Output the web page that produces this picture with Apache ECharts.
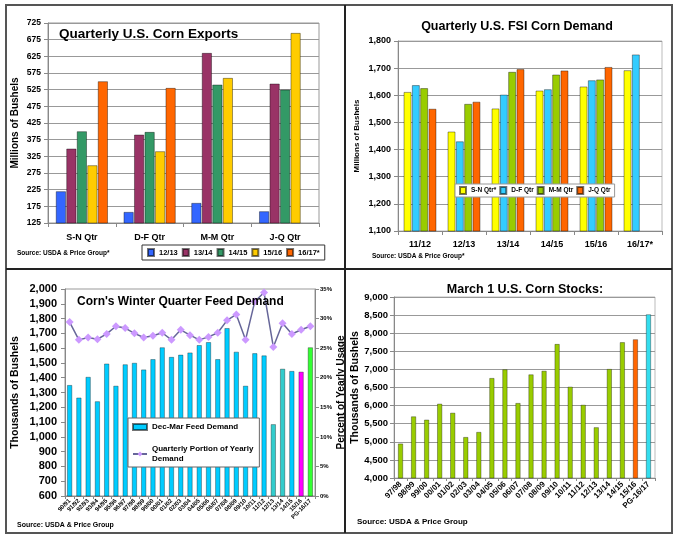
<!DOCTYPE html>
<html>
<head>
<meta charset="utf-8">
<script src="https://cdn.jsdelivr.net/npm/echarts@6/dist/echarts.min.js"></script>
<style>
  html, body { margin: 0; padding: 0; background: #fff; }
  #main { width: 680px; height: 542px; }
</style>
</head>
<body>
<div id="main"></div>
<script>
// --- top left: quarterly exports ---
var expQtrs = ['S-N Qtr', 'D-F Qtr', 'M-M Qtr', 'J-Q Qtr'];
var exp1213 = [220, 158, 185, 160];
var exp1314 = [348, 390, 635, 543];
var exp1415 = [400, 398, 540, 525];
var exp1516 = [298, 340, 560, 695];
var exp1617 = [550, 530, null, null];

// --- top right: FSI demand ---
var fsiYears = ['11/12', '12/13', '13/14', '14/15', '15/16', '16/17*'];
var fsiSN = [1612, 1466, 1551, 1617, 1632, 1692];
var fsiDF = [1637, 1430, 1602, 1622, 1655, 1750];
var fsiMM = [1626, 1568, 1686, 1676, 1658, null];
var fsiJQ = [1550, 1576, 1696, 1691, 1704, null];

// --- bottom left: winter quarter feed ---
var feedYears = ['90/91','91/92','92/93','93/94','94/95','95/96','96/97','97/98','98/99','99/00',
  '00/01','01/02','02/03','03/04','04/05','05/06','06/07','07/08','08/09','09/10',
  '10/11','11/12','12/13','13/14','14/15','15/16','PG-16/17'];
var feedDemand = [1350,1265,1405,1240,1495,1345,1490,1500,1455,1525,
  1605,1540,1555,1570,1620,1640,1525,1735,1575,1345,
  1565,1550,1085,1460,1445,1440,1605];
var feedPct = [29.4,26.4,26.8,26.5,27.4,28.7,28.4,27.5,26.8,27.1,
  27.6,26.4,28.1,27.2,26.4,26.9,27.6,29.7,30.7,26.4,
  32.9,34.4,25.2,29.2,27.4,28.1,28.7];

// --- bottom right: March 1 stocks ---
var stockYears = ['97/98','98/99','99/00','00/01','01/02','02/03','03/04','04/05','05/06','06/07',
  '07/08','08/09','09/10','10/11','11/12','12/13','13/14','14/15','15/16','PG-16/17'];
var stockVals = [4950,5700,5610,6050,5800,5130,5270,6760,7000,6070,
  6860,6960,7700,6520,6020,5400,7010,7750,7830,8520];

var FONT = 'Liberation Sans, Arial, sans-serif';
var edge = 'rgba(0,0,0,0.55)';

function comma(v) { return v.toLocaleString('en-US'); }

function feedColor(cat) {
  if (cat === '12/13' || cat === '13/14') return '#33CCCC';
  if (cat === '15/16') return '#FF00FF';
  if (cat === 'PG-16/17') return '#33FF33';
  return null;
}
function stockColor(cat) {
  if (cat === '15/16') return '#FF6600';
  if (cat === 'PG-16/17') return '#33DDEE';
  return null;
}

function bar(name, data, color, xi, width, gap) {
  return {
    name: name, type: 'bar', xAxisIndex: xi, yAxisIndex: xi,
    data: data, barWidth: width, barGap: gap,
    itemStyle: { color: color, borderColor: edge, borderWidth: 0.7 }
  };
}

var chart = echarts.init(document.getElementById('main'));

var ylab = function (size) {
  return { fontFamily: FONT, fontWeight: 'bold', fontSize: size, color: '#000' };
};
var gridLine = { show: true, lineStyle: { color: '#999', width: 1 } };
var axLine = { show: true, lineStyle: { color: '#888' } };

var option = {
  animation: false,
  backgroundColor: '#fff',
  textStyle: { fontFamily: FONT },
  title: [
    { text: 'Quarterly U.S. Corn Exports', left: 54, top: 22,
      textStyle: { fontSize: 13.5, fontWeight: 'bold', color: '#000', fontFamily: FONT } },
    { text: 'Quarterly U.S. FSI Corn Demand', left: 512, top: 15, textAlign: 'center',
      textStyle: { fontSize: 12.5, fontWeight: 'bold', color: '#000', fontFamily: FONT } },
    { text: "Corn's Winter Quarter Feed Demand", left: 72, top: 291,
      textStyle: { fontSize: 12, fontWeight: 'bold', color: '#000', fontFamily: FONT } },
    { text: 'March 1 U.S. Corn Stocks:', left: 520, top: 278, textAlign: 'center',
      textStyle: { fontSize: 12.5, fontWeight: 'bold', color: '#000', fontFamily: FONT } }
  ],
  legend: [
    { data: ['12/13', '13/14', '14/15', '15/16', '16/17*'],
      left: 142, top: 245, orient: 'horizontal',
      padding: [3, 5], itemGap: 4, itemWidth: 6, itemHeight: 7, icon: 'rect',
      borderColor: '#333', borderWidth: 1, backgroundColor: '#fff',
      textStyle: { fontSize: 7.5, fontWeight: 'bold', fontFamily: FONT, color: '#000' } },
    { data: ['S-N Qtr*', 'D-F Qtr', 'M-M Qtr', 'J-Q Qtr'],
      left: 455, top: 184, orient: 'horizontal',
      padding: [2, 4], itemGap: 3, itemWidth: 6, itemHeight: 7, icon: 'rect',
      borderColor: '#999', borderWidth: 1, backgroundColor: '#fff',
      textStyle: { fontSize: 6.5, fontWeight: 'bold', fontFamily: FONT, color: '#000' } },
    { data: [{ name: 'Dec-Mar Feed Demand', icon: 'rect' },
             { name: 'Quarterly Portion of Yearly\nDemand' }],
      left: 128, top: 418, orient: 'vertical',
      padding: [4, 6, 3, 4], itemGap: 12, itemWidth: 14, itemHeight: 6,
      borderColor: '#666', borderWidth: 1, backgroundColor: '#fff',
      textStyle: { fontSize: 8, fontWeight: 'bold', fontFamily: FONT, color: '#000', lineHeight: 10 } }
  ],
  grid: [
    { left: 48, top: 23, width: 271, height: 200, show: true, borderColor: '#999', borderWidth: 1 },
    { left: 398, top: 41, width: 264, height: 190, show: true, borderColor: '#bbb', borderWidth: 1 },
    { left: 65, top: 289, width: 250, height: 207, show: true, borderColor: '#999', borderWidth: 1 },
    { left: 394, top: 297, width: 261, height: 181, show: true, borderColor: '#bbb', borderWidth: 1 }
  ],
  xAxis: [
    { gridIndex: 0, type: 'category', data: expQtrs,
      axisLine: axLine, axisTick: { show: true, length: 4, lineStyle: { color: '#888' } },
      axisLabel: Object.assign(ylab(9), { margin: 10 }) },
    { gridIndex: 1, type: 'category', data: fsiYears,
      axisLine: axLine, axisTick: { show: true, length: 4, lineStyle: { color: '#888' } },
      axisLabel: Object.assign(ylab(9), { margin: 9 }) },
    { gridIndex: 2, type: 'category', data: feedYears,
      axisLine: axLine, axisTick: { show: true, length: 3, lineStyle: { color: '#888' } },
      axisLabel: Object.assign(ylab(6), { interval: 0, rotate: 45, margin: 4 }) },
    { gridIndex: 3, type: 'category', data: stockYears,
      axisLine: axLine, axisTick: { show: true, length: 3, lineStyle: { color: '#888' } },
      axisLabel: Object.assign(ylab(8), { interval: 0, rotate: 45, margin: 5 }) }
  ],
  yAxis: [
    { gridIndex: 0, type: 'value', min: 125, max: 725, interval: 50,
      name: 'Millions of Bushels', nameLocation: 'middle', nameGap: 28, nameRotate: 90,
      nameTextStyle: ylab(10),
      axisLine: axLine, axisTick: { show: true, length: 4, lineStyle: { color: '#888' } },
      splitLine: gridLine, axisLabel: Object.assign(ylab(8.5), { margin: 7 }) },
    { gridIndex: 1, type: 'value', min: 1100, max: 1800, interval: 100,
      name: 'Millions of Bushels', nameLocation: 'middle', nameGap: 37, nameRotate: 90,
      nameTextStyle: ylab(8),
      axisLine: axLine, axisTick: { show: true, length: 4, lineStyle: { color: '#888' } },
      splitLine: gridLine,
      axisLabel: Object.assign(ylab(9), { margin: 7, formatter: comma }) },
    { gridIndex: 2, type: 'value', min: 600, max: 2000, interval: 100,
      name: 'Thousands of Bushels', nameLocation: 'middle', nameGap: 44, nameRotate: 90,
      nameTextStyle: ylab(10.5),
      axisLine: axLine, axisTick: { show: true, length: 4, lineStyle: { color: '#888' } },
      splitLine: { show: false },
      axisLabel: Object.assign(ylab(11), { margin: 8, formatter: comma }) },
    { gridIndex: 2, type: 'value', min: 0, max: 35, interval: 5, position: 'right',
      name: 'Percent of Yearly Usage', nameLocation: 'middle', nameGap: 17, nameRotate: 90,
      nameTextStyle: ylab(10),
      axisLine: axLine, axisTick: { show: true, length: 4, lineStyle: { color: '#888' } },
      splitLine: { show: false },
      axisLabel: Object.assign(ylab(6), { margin: 5, formatter: '{value}%' }) },
    { gridIndex: 3, type: 'value', min: 4000, max: 9000, interval: 500,
      name: 'Thousands of Bushels', nameLocation: 'middle', nameGap: 33, nameRotate: 90,
      nameTextStyle: ylab(10.5),
      axisLine: axLine, axisTick: { show: true, length: 4, lineStyle: { color: '#888' } },
      splitLine: gridLine,
      axisLabel: Object.assign(ylab(9.5), { margin: 6, formatter: comma }) }
  ],
  series: [
    bar('12/13', exp1213, '#3366FF', 0, 10, '5%'),
    bar('13/14', exp1314, '#993366', 0, 10, '5%'),
    bar('14/15', exp1415, '#339966', 0, 10, '5%'),
    bar('15/16', exp1516, '#FFCC00', 0, 10, '5%'),
    bar('16/17*', exp1617, '#FF6600', 0, 10, '5%'),

    bar('S-N Qtr*', fsiSN, '#FFFF00', 1, 7.7, '8%'),
    bar('D-F Qtr', fsiDF, '#33CCFF', 1, 7.7, '8%'),
    bar('M-M Qtr', fsiMM, '#99CC00', 1, 7.7, '8%'),
    bar('J-Q Qtr', fsiJQ, '#FF6600', 1, 7.7, '8%'),

    { name: 'Dec-Mar Feed Demand', type: 'bar', xAxisIndex: 2, yAxisIndex: 2, barWidth: 5,
      itemStyle: { color: '#00CCFF', borderColor: edge, borderWidth: 0.6 },
      data: feedDemand.map(function (v, i) {
        var c = feedColor(feedYears[i]);
        return c ? { value: v, itemStyle: { color: c } } : v;
      }) },
    { name: 'Quarterly Portion of Yearly\nDemand', type: 'line', xAxisIndex: 2, yAxisIndex: 3,
      data: feedPct, symbol: 'diamond', symbolSize: 8,
      itemStyle: { color: '#CC99FF' },
      lineStyle: { color: '#666699', width: 1.5 }, z: 5 },

    { name: 'March 1 Stocks', type: 'bar', xAxisIndex: 3, yAxisIndex: 4, barWidth: 5,
      itemStyle: { color: '#99CC00', borderColor: edge, borderWidth: 0.6 },
      data: stockVals.map(function (v, i) {
        var c = stockColor(stockYears[i]);
        return c ? { value: v, itemStyle: { color: c } } : v;
      }) }
  ],
  graphic: [
    { type: 'text', left: 17, top: 250,
      style: { text: 'Source: USDA & Price Group*', font: 'bold 6.5px ' + FONT, fill: '#000' } },
    { type: 'text', left: 372, top: 253,
      style: { text: 'Source: USDA & Price Group*', font: 'bold 6.5px ' + FONT, fill: '#000' } },
    { type: 'text', left: 17, top: 522,
      style: { text: 'Source: USDA & Price Group', font: 'bold 7px ' + FONT, fill: '#000' } },
    { type: 'text', left: 357, top: 518,
      style: { text: 'Source: USDA & Price Group', font: 'bold 8px ' + FONT, fill: '#000' } },
    { type: 'rect', z: 100, shape: { x: 6, y: 5, width: 666, height: 528 },
      style: { fill: null, stroke: '#555', lineWidth: 2 } },
    { type: 'line', z: 100, shape: { x1: 345, y1: 5, x2: 345, y2: 533 },
      style: { stroke: '#222', lineWidth: 2 } },
    { type: 'line', z: 100, shape: { x1: 6, y1: 269, x2: 672, y2: 269 },
      style: { stroke: '#222', lineWidth: 2 } }
  ]
};

chart.setOption(option);
</script>
</body>
</html>
